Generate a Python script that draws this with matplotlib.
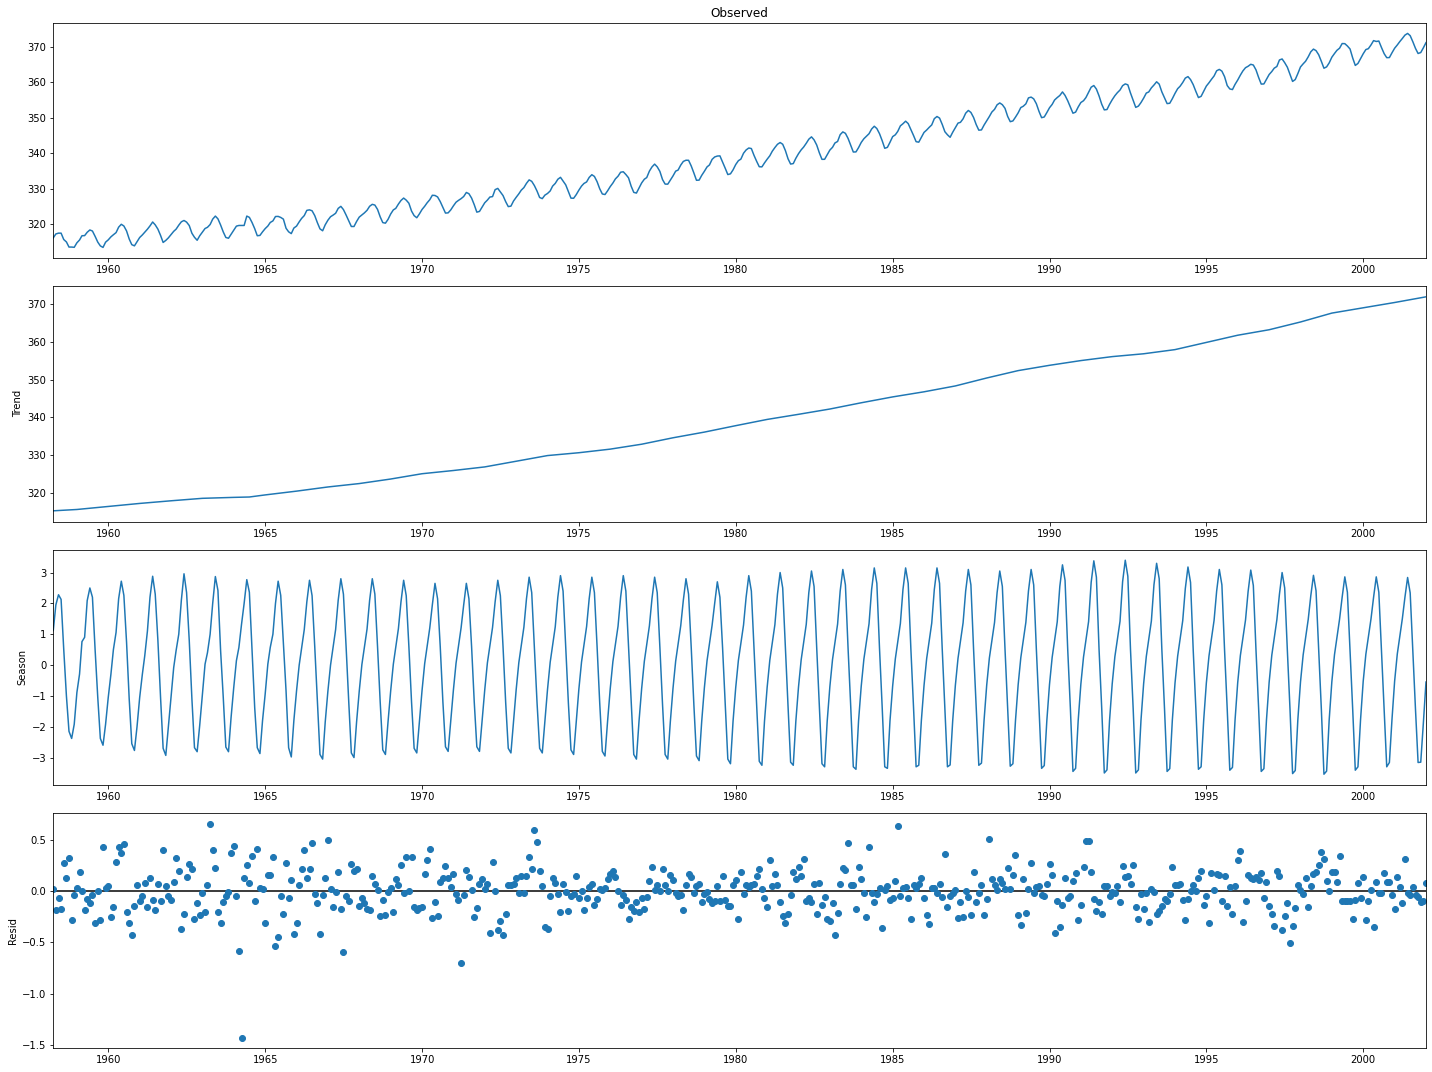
import numpy as np
import pandas as pd
import matplotlib
matplotlib.use("Agg")
import matplotlib.pyplot as plt
import matplotlib.dates as mdates

# monthly index, month-end stamps, Mar 1958 .. Dec 2001 (526 points)
dates = pd.date_range("1958-03-01", periods=526, freq="MS") + pd.offsets.MonthEnd(0)

# observed CO2 (ppm), one row per year, 1958 starts in March
observed_rows = [
    [316.10, 317.20, 317.43, 317.43, 315.63, 314.95, 313.50, 313.50, 313.43, 314.70],
    [315.50, 316.70, 316.73, 317.68, 318.33, 318.03, 316.53, 314.90, 313.83, 313.40, 314.88, 315.53],
    [316.38, 316.98, 317.58, 319.12, 319.93, 319.45, 318.06, 315.78, 314.18, 313.84, 315.03, 316.20],
    [316.93, 317.70, 318.54, 319.48, 320.58, 319.77, 318.57, 316.79, 314.80, 315.38, 316.10, 317.01],
    [317.94, 318.56, 319.68, 320.63, 321.01, 320.55, 319.58, 317.40, 316.26, 315.42, 316.69, 317.69],
    [318.74, 319.08, 319.86, 321.39, 322.25, 321.47, 319.74, 317.77, 316.21, 315.99, 317.12, 318.31],
    [319.41, 319.60, 319.60, 319.60, 322.25, 321.89, 320.44, 318.70, 316.70, 316.79, 317.79, 318.71],
    [319.44, 320.44, 320.89, 322.13, 322.16, 321.87, 321.39, 318.81, 317.81, 317.30, 318.87, 319.42],
    [320.62, 321.59, 322.39, 323.87, 324.01, 323.75, 322.39, 320.37, 318.64, 318.10, 319.79, 321.08],
    [322.07, 322.50, 323.04, 324.42, 325.00, 324.09, 322.55, 320.92, 319.31, 319.31, 320.72, 321.96],
    [322.57, 323.15, 323.89, 325.02, 325.57, 325.36, 324.14, 322.03, 320.41, 320.25, 321.31, 322.84],
    [324.00, 324.42, 325.64, 326.66, 327.34, 326.76, 325.88, 323.67, 322.38, 321.78, 322.85, 324.11],
    [325.03, 325.99, 326.87, 328.13, 328.07, 327.66, 326.35, 324.69, 323.10, 323.16, 323.98, 325.13],
    [326.17, 326.68, 327.18, 327.78, 328.92, 328.57, 327.34, 325.46, 323.36, 323.57, 324.80, 326.01],
    [326.77, 327.63, 327.75, 329.72, 330.07, 329.09, 328.05, 326.32, 324.93, 325.06, 326.50, 327.55],
    [328.54, 329.56, 330.30, 331.50, 332.48, 332.07, 330.87, 329.31, 327.51, 327.18, 328.16, 328.64],
    [329.35, 330.71, 331.48, 332.65, 333.20, 332.16, 331.07, 329.12, 327.32, 327.28, 328.30, 329.58],
    [330.73, 331.46, 331.90, 333.17, 333.94, 333.45, 331.97, 329.95, 328.50, 328.34, 329.37, 330.58],
    [331.59, 332.75, 333.52, 334.64, 334.77, 334.00, 333.06, 330.68, 328.95, 328.75, 330.15, 331.62],
    [332.66, 333.13, 334.95, 336.13, 336.93, 336.17, 334.88, 332.56, 331.29, 331.27, 332.41, 333.60],
    [334.95, 335.25, 336.66, 337.69, 338.03, 338.01, 336.41, 334.41, 332.37, 332.41, 333.75, 334.90],
    [336.14, 336.69, 338.27, 338.95, 339.21, 339.26, 337.54, 335.75, 333.98, 334.19, 335.31, 336.81],
    [337.90, 338.34, 340.01, 340.93, 341.48, 341.33, 339.40, 337.70, 336.19, 336.15, 337.27, 338.32],
    [339.29, 340.55, 341.61, 342.53, 343.03, 342.54, 340.78, 338.44, 336.95, 337.08, 338.58, 339.88],
    [340.96, 341.73, 342.81, 343.97, 344.63, 343.79, 342.32, 340.09, 338.28, 338.29, 339.60, 340.90],
    [341.68, 342.90, 343.33, 345.25, 346.03, 345.63, 344.19, 342.27, 340.35, 340.38, 341.59, 343.05],
    [344.10, 344.79, 345.52, 346.84, 347.63, 346.98, 345.53, 343.55, 341.40, 341.67, 343.10, 344.70],
    [345.21, 346.16, 347.74, 348.34, 349.06, 348.38, 346.72, 345.02, 343.27, 343.13, 344.49, 345.88],
    [346.56, 347.28, 348.01, 349.77, 350.38, 349.93, 348.16, 346.08, 345.22, 344.51, 345.93, 347.21],
    [348.52, 348.73, 349.73, 351.31, 352.09, 351.53, 350.11, 348.08, 346.52, 346.59, 347.96, 349.16],
    [350.39, 351.64, 352.40, 353.69, 354.21, 353.72, 352.69, 350.40, 348.92, 349.13, 350.20, 351.41],
    [352.91, 353.27, 353.96, 355.64, 355.86, 355.37, 353.99, 351.81, 350.05, 350.25, 351.49, 352.85],
    [353.80, 355.04, 355.73, 356.32, 357.32, 356.34, 354.84, 353.01, 351.31, 351.62, 353.07, 354.33],
    [354.84, 355.73, 357.23, 358.66, 359.13, 358.13, 356.19, 353.85, 352.25, 352.35, 353.81, 355.12],
    [356.25, 357.11, 357.86, 359.09, 359.59, 359.33, 357.01, 354.94, 352.96, 353.32, 354.32, 355.57],
    [357.00, 357.31, 358.47, 359.27, 360.19, 359.52, 357.33, 355.64, 354.03, 354.12, 355.41, 356.91],
    [358.24, 358.92, 359.99, 361.23, 361.65, 360.81, 359.38, 357.46, 355.73, 356.08, 357.53, 358.98],
    [359.92, 360.86, 361.83, 363.30, 363.69, 363.19, 361.64, 359.12, 358.17, 357.99, 359.45, 360.68],
    [362.07, 363.24, 364.17, 364.57, 365.13, 364.92, 363.55, 361.38, 359.54, 359.58, 360.89, 362.24],
    [363.09, 364.03, 364.51, 366.35, 366.64, 365.59, 364.31, 362.25, 360.29, 360.82, 362.49, 364.38],
    [365.26, 365.98, 367.24, 368.66, 369.42, 368.99, 367.82, 365.95, 364.02, 364.40, 365.52, 367.13],
    [368.18, 369.07, 369.68, 370.99, 370.96, 370.30, 369.45, 366.90, 364.81, 365.37, 366.72, 368.10],
    [369.29, 369.54, 370.60, 371.82, 371.58, 371.70, 369.86, 368.13, 367.00, 367.03, 368.37, 369.67],
    [370.59, 371.51, 372.43, 373.37, 373.85, 373.22, 371.50, 369.61, 368.18, 368.45, 369.76, 371.24],
]

# trend at year ends
trend_dates = pd.to_datetime([
    "1958-03-31", "1958-12-31", "1959-12-31", "1960-12-31", "1961-12-31", "1962-12-31",
    "1963-12-31", "1964-06-30", "1964-12-31", "1965-12-31", "1966-12-31", "1967-12-31",
    "1968-12-31", "1969-12-31", "1970-12-31", "1971-12-31", "1972-12-31", "1973-12-31",
    "1974-12-31", "1975-12-31", "1976-12-31", "1977-12-31", "1978-12-31", "1979-12-31",
    "1980-12-31", "1981-12-31", "1982-12-31", "1983-12-31", "1984-12-31", "1985-12-31",
    "1986-12-31", "1987-12-31", "1988-12-31", "1989-12-31", "1990-12-31", "1991-12-31",
    "1992-12-31", "1993-12-31", "1994-12-31", "1995-12-31", "1996-12-31", "1997-12-31",
    "1998-12-31", "1999-12-31", "2000-12-31", "2001-12-31",
])
trend_values = [
    315.30, 315.65, 316.45, 317.25, 317.95, 318.60,
    318.85, 318.95, 319.50, 320.50, 321.60, 322.50,
    323.70, 325.10, 325.95, 326.90, 328.40, 329.90,
    330.65, 331.60, 332.90, 334.60, 336.10, 337.80,
    339.45, 340.80, 342.20, 343.85, 345.40, 346.75,
    348.30, 350.40, 352.35, 353.75, 355.00, 356.05,
    356.80, 357.90, 359.80, 361.70, 363.15, 365.20,
    367.55, 368.95, 370.35, 371.85,
]

# seasonal component, one row per year
season_rows = [
    [1.12, 1.95, 2.28, 2.13, 0.50, -1.00, -2.15, -2.38, -1.92, -0.89],
    [-0.29, 0.76, 0.90, 2.09, 2.50, 2.20, 0.50, -1.05, -2.38, -2.60, -1.92, -1.05],
    [-0.30, 0.50, 1.06, 2.15, 2.72, 2.26, 0.75, -1.10, -2.55, -2.77, -2.00, -1.05],
    [-0.30, 0.30, 1.10, 2.20, 2.88, 2.30, 0.80, -1.05, -2.70, -2.93, -2.00, -1.00],
    [-0.08, 0.47, 1.00, 2.10, 2.96, 2.35, 0.80, -1.10, -2.68, -2.81, -1.95, -0.95],
    [0.03, 0.40, 1.00, 2.00, 2.87, 2.42, 0.47, -1.05, -2.66, -2.81, -1.70, -0.73],
    [0.14, 0.57, 1.33, 2.00, 2.77, 2.36, 0.47, -1.38, -2.68, -2.87, -1.81, -0.94],
    [0.03, 0.57, 1.00, 2.00, 2.72, 2.26, 0.68, -0.84, -2.68, -2.98, -1.80, -0.84],
    [0.00, 0.55, 1.15, 2.05, 2.75, 2.25, 0.60, -1.20, -2.90, -3.05, -1.85, -0.85],
    [0.00, 0.55, 1.15, 2.10, 2.80, 2.30, 0.60, -1.20, -2.85, -3.00, -1.85, -0.85],
    [0.02, 0.57, 1.17, 2.10, 2.80, 2.30, 0.60, -1.20, -2.75, -2.90, -1.85, -0.84],
    [0.03, 0.58, 1.18, 2.05, 2.75, 2.25, 0.60, -1.20, -2.70, -2.85, -1.85, -0.83],
    [0.05, 0.60, 1.20, 1.95, 2.65, 2.15, 0.60, -1.20, -2.65, -2.80, -1.84, -0.82],
    [0.06, 0.61, 1.21, 1.95, 2.65, 2.15, 0.60, -1.20, -2.65, -2.80, -1.84, -0.81],
    [0.07, 0.62, 1.22, 2.05, 2.75, 2.25, 0.60, -1.22, -2.70, -2.85, -1.84, -0.80],
    [0.08, 0.63, 1.23, 2.15, 2.85, 2.35, 0.60, -1.22, -2.70, -2.85, -1.84, -0.79],
    [0.09, 0.64, 1.24, 2.20, 2.90, 2.40, 0.60, -1.24, -2.75, -2.90, -1.84, -0.78],
    [0.10, 0.65, 1.25, 2.15, 2.85, 2.35, 0.60, -1.25, -2.80, -2.95, -1.83, -0.77],
    [0.11, 0.66, 1.26, 2.20, 2.90, 2.40, 0.60, -1.26, -2.90, -3.05, -1.83, -0.76],
    [0.12, 0.67, 1.27, 2.15, 2.85, 2.35, 0.58, -1.28, -2.90, -3.05, -1.83, -0.75],
    [0.13, 0.68, 1.28, 2.10, 2.80, 2.30, 0.57, -1.30, -2.95, -3.10, -1.83, -0.74],
    [0.14, 0.69, 1.29, 2.00, 2.70, 2.20, 0.56, -1.30, -3.05, -3.20, -1.82, -0.73],
    [0.15, 0.70, 1.30, 2.20, 2.90, 2.40, 0.55, -1.32, -3.12, -3.25, -1.82, -0.72],
    [0.16, 0.71, 1.31, 2.30, 3.00, 2.50, 0.55, -1.33, -3.15, -3.25, -1.82, -0.71],
    [0.17, 0.72, 1.32, 2.35, 3.05, 2.55, 0.55, -1.34, -3.20, -3.30, -1.82, -0.70],
    [0.18, 0.73, 1.33, 2.40, 3.10, 2.60, 0.54, -1.35, -3.30, -3.38, -1.81, -0.69],
    [0.19, 0.74, 1.34, 2.45, 3.15, 2.65, 0.54, -1.36, -3.30, -3.35, -1.81, -0.68],
    [0.20, 0.75, 1.35, 2.45, 3.15, 2.65, 0.53, -1.37, -3.30, -3.25, -1.81, -0.67],
    [0.21, 0.76, 1.36, 2.45, 3.15, 2.65, 0.53, -1.38, -3.30, -3.24, -1.81, -0.66],
    [0.22, 0.77, 1.37, 2.40, 3.10, 2.60, 0.52, -1.38, -3.25, -3.18, -1.80, -0.65],
    [0.23, 0.78, 1.38, 2.35, 3.05, 2.55, 0.52, -1.39, -3.28, -3.20, -1.80, -0.64],
    [0.24, 0.79, 1.39, 2.40, 3.10, 2.60, 0.51, -1.40, -3.35, -3.26, -1.80, -0.63],
    [0.25, 0.80, 1.40, 2.55, 3.25, 2.75, 0.51, -1.40, -3.45, -3.35, -1.80, -0.62],
    [0.26, 0.81, 1.41, 2.68, 3.38, 2.85, 0.50, -1.41, -3.50, -3.40, -1.80, -0.61],
    [0.27, 0.82, 1.42, 2.70, 3.40, 2.88, 0.50, -1.41, -3.50, -3.40, -1.79, -0.60],
    [0.28, 0.83, 1.43, 2.60, 3.30, 2.80, 0.50, -1.42, -3.45, -3.36, -1.79, -0.59],
    [0.29, 0.84, 1.44, 2.48, 3.18, 2.68, 0.49, -1.42, -3.38, -3.30, -1.79, -0.58],
    [0.30, 0.85, 1.45, 2.40, 3.10, 2.60, 0.49, -1.43, -3.41, -3.32, -1.79, -0.57],
    [0.31, 0.86, 1.46, 2.38, 3.08, 2.58, 0.48, -1.43, -3.45, -3.36, -1.78, -0.56],
    [0.32, 0.87, 1.47, 2.30, 3.00, 2.50, 0.48, -1.44, -3.52, -3.42, -1.78, -0.55],
    [0.33, 0.88, 1.48, 2.25, 2.91, 2.41, 0.47, -1.44, -3.54, -3.44, -1.78, -0.54],
    [0.34, 0.89, 1.49, 2.20, 2.86, 2.36, 0.47, -1.45, -3.41, -3.30, -1.78, -0.53],
    [0.35, 0.90, 1.50, 2.20, 2.86, 2.36, 0.46, -1.45, -3.30, -3.16, -1.77, -0.52],
    [0.36, 0.91, 1.51, 2.20, 2.84, 2.34, 0.46, -1.45, -3.16, -3.15, -1.90, -0.55],
]

# residuals, in time order
resid = [
    0.02, -0.18, -0.07, -0.17, 0.28, 0.13, 0.32, -0.28, -0.04, 0.03,
    0.19, 0.00, -0.18, -0.08, -0.12, -0.04, -0.31, 0.00, -0.28, 0.43,
    0.03, 0.05, -0.25, -0.15, 0.29, 0.43, 0.37, 0.46, -0.20, -0.31,
    -0.43, -0.14, 0.06, -0.10, -0.05, 0.08, -0.15, 0.13, -0.09, -0.18,
    0.07, -0.10, 0.40, 0.05, -0.05, -0.09, 0.09, 0.32, 0.20, -0.37,
    -0.22, 0.14, 0.27, 0.22, -0.27, -0.12, -0.23, -0.02, -0.20, 0.06,
    0.66, 0.40, 0.23, -0.20, -0.31, -0.11, -0.05, -0.01, 0.37, 0.44,
    -0.05, -0.58, -1.43, 0.13, 0.26, 0.08, 0.34, -0.10, 0.41, 0.03,
    0.02, -0.31, 0.16, 0.16, 0.33, -0.54, -0.45,
    -0.05, -0.22, 0.28, -0.07, 0.11, -0.42, -0.31, 0.06, 0.22, 0.40,
    0.13, 0.22, 0.47, -0.03, -0.12, -0.42, -0.04, 0.13, 0.50, 0.02,
    -0.15, -0.01, 0.19, -0.17, -0.59, -0.05, -0.10, 0.27, 0.20, 0.22,
    -0.14, -0.07, -0.12, -0.17, -0.18, 0.15, 0.07, 0.01, -0.24, -0.09,
    -0.23, -0.01, 0.03, -0.20, 0.12, 0.06, 0.26, -0.02, 0.33, 0.00,
    0.33, -0.15, -0.18, -0.16, -0.15, 0.17, 0.30, 0.41, -0.26, -0.11,
    -0.24, 0.09, 0.13, 0.25, 0.13, 0.04, 0.17, -0.03, -0.09, -0.70,
    -0.04, 0.21, 0.14, 0.01, -0.25, -0.16, 0.07, 0.12, 0.02, 0.07,
    -0.41, 0.29, 0.00, -0.38, -0.29, -0.43, -0.22, 0.06, 0.06,
    0.07, 0.13, -0.02, 0.15, -0.02, 0.15, 0.33, 0.22, 0.60, 0.48,
    0.20, 0.05, -0.35, -0.37, -0.05, 0.13, 0.08, -0.03, -0.20, 0.07,
    -0.01, -0.19, -0.05, -0.03, 0.15, -0.07, 0.00, -0.18, -0.07, 0.04,
    0.07, -0.13, -0.08, 0.02, 0.01, 0.03, 0.12, 0.17, 0.20, 0.14,
    0.00, -0.13, -0.04, -0.09, -0.27, -0.15, -0.19, -0.11, -0.20, -0.07,
    -0.17, -0.06, 0.10, 0.24, 0.01, 0.06, 0.00, 0.22, 0.06, 0.00,
    0.16, 0.11, -0.02, -0.05, -0.04, -0.18, 0.06, 0.17, 0.14, -0.02,
    0.05, 0.07, -0.11, -0.03, -0.01, -0.08, -0.12, -0.10, 0.05, -0.10,
    0.15, -0.09, -0.14, -0.14, 0.06, 0.11, -0.27, 0.19, -0.03, 0.06,
    0.04, 0.06, 0.07, 0.15, 0.22, 0.02, -0.07, -0.15, 0.30, 0.05,
    0.17, 0.06, -0.11, -0.24, -0.31, -0.22, -0.04, 0.19, 0.12, 0.24,
    0.15, 0.31, -0.10, -0.07, -0.11, 0.07, -0.22, 0.08, -0.13, -0.06,
    -0.27, -0.29, -0.12, -0.43, -0.21, 0.07, 0.23, 0.21, 0.47, 0.06,
    0.06, -0.17, 0.24, 0.12, -0.02, -0.25, 0.43, -0.02, -0.11, -0.03,
    0.03, -0.36, 0.01, 0.05, -0.09, -0.07, 0.10, 0.64, -0.05, 0.03,
    0.04, -0.07, -0.27, 0.06, 0.03, 0.07, 0.13, -0.07, -0.23, -0.32,
    0.03, 0.03, -0.02, 0.07, -0.06, 0.36, -0.15, -0.05, -0.02, 0.01,
    -0.26, -0.11, -0.25, 0.00, -0.06, -0.23, 0.19, -0.11, -0.02, 0.06,
    -0.23,
    -0.08, 0.51, 0.12, 0.06, 0.01, 0.12, 0.08, 0.02, 0.23,
    0.02, 0.16, 0.35, -0.23, -0.33, 0.12, -0.21, 0.02, 0.28, -0.02,
    0.04, 0.05, -0.04, -0.05, 0.07, 0.27, 0.16, -0.41, -0.10, -0.35,
    -0.13, 0.13, -0.07, -0.05, 0.10, 0.18, -0.28, -0.13, 0.24, 0.49,
    0.49, 0.19, -0.08, -0.19, -0.11, -0.22, 0.05, 0.05, -0.05, -0.01,
    -0.02, 0.05, -0.11, 0.25, 0.14, 0.15, 0.07, 0.26, -0.15, -0.27,
    -0.03, -0.17, -0.02, -0.30, 0.02, -0.01, -0.22, -0.19, -0.14,
    -0.08, -0.10, -0.03, 0.24, 0.06, 0.06, 0.07, -0.09, -0.28, -0.08,
    0.00, 0.06, 0.00, 0.13, 0.20, -0.13, -0.05, -0.31, 0.18, 0.01,
    0.17, 0.16, -0.10, 0.15, -0.14, 0.04, -0.22, 0.05, 0.30, 0.39,
    -0.30, -0.10, 0.16, 0.13, 0.12, 0.14, 0.11, 0.18, -0.07, 0.09,
    -0.14, -0.22, -0.34, 0.20, 0.15, -0.38, -0.24, -0.12, -0.51, -0.34,
    -0.16, 0.06, 0.01, -0.03, 0.13, -0.15, 0.05, 0.17, 0.19, 0.26,
    0.38, 0.31, 0.10, 0.00, 0.19, 0.19, 0.09, 0.34, -0.10, -0.10,
    -0.10, -0.10, -0.27, -0.09, 0.08, -0.07, 0.14, -0.28, -0.10, 0.01,
    -0.35, 0.09, -0.02, -0.02, 0.18, 0.09, 0.09, -0.04, -0.17, 0.14,
    0.04, -0.12, 0.31, -0.02, -0.04, 0.04, -0.04, -0.06, -0.11, -0.10,
    0.08,
]

observed = [v for row in observed_rows for v in row]
season = [v for row in season_rows for v in row]

fig, axes = plt.subplots(4, 1, figsize=(1432 / 72, 1072 / 72), dpi=72)
fig.subplots_adjust(left=0.0372, right=0.9958, top=0.9788, bottom=0.0221, hspace=0.119)

axes[0].plot(dates, observed)
axes[0].set_title("Observed")

axes[1].plot(trend_dates, trend_values)
axes[1].set_ylabel("Trend")

axes[2].plot(dates, season)
axes[2].set_ylabel("Season")

axes[3].plot(dates, resid, marker="o", linestyle="none")
axes[3].plot([dates[0], dates[-1]], [0, 0], color="#000000", zorder=-3)
axes[3].set_ylabel("Resid")

for ax in axes:
    ax.set_xlim(dates[0], dates[-1])
    ax.xaxis.set_major_locator(mdates.YearLocator(5))
    ax.xaxis.set_major_formatter(mdates.DateFormatter("%Y"))

fig.savefig("out.png", dpi=72)
